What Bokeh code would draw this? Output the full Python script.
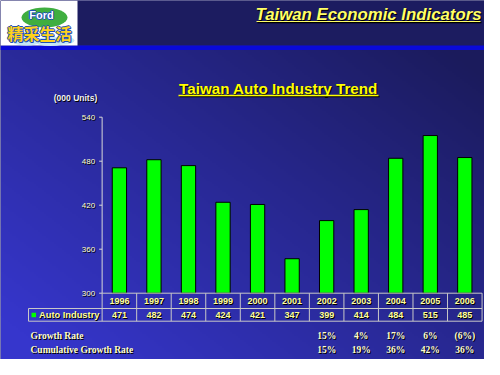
import numpy as np
from bokeh.plotting import figure
from bokeh.models import Range1d
from bokeh.core.properties import value
from bokeh.embed import file_html
from bokeh.resources import INLINE

# ---------------- data ----------------
years = [1996, 1997, 1998, 1999, 2000, 2001, 2002, 2003, 2004, 2005, 2006]
year_labels = [str(y) for y in years]
auto_units = [471, 482, 474, 424, 421, 347, 399, 414, 484, 515, 485]
y_ticks = [300, 360, 420, 480, 540]
growth_years = [2002, 2003, 2004, 2005, 2006]
growth_rate = ["15%", "4%", "17%", "6%", "(6%)"]
cumulative_rate = ["15%", "19%", "36%", "42%", "36%"]
row_labels = ["Growth Rate", "Cumulative Growth Rate"]
series_name = "Auto Industry"
chart_title = "Taiwan Auto Industry Trend"
page_title = "Taiwan Economic Indicators"
unit_label = "(000 Units)"
logo_en = "Ford"
logo_zh = "精采生活"

# ---------------- layout helpers (reference pixel space) ----------------
W, H = 484, 359
AX_PX = 292.7                     # pixel row of value 300
TOP_PX = 116.7                    # pixel row of value 540
PX_PER_UNIT = (AX_PX - TOP_PX) / (y_ticks[-1] - y_ticks[0])
C0 = 118.9                        # pixel centre of the first year
COL = 34.54                       # column width in pixels

def px_to_year(px):
    return years[0] + (px - C0) / COL

p = figure(width=W, height=H, output_backend="svg", toolbar_location=None,
           x_range=Range1d(0, W), y_range=Range1d(H, 0),
           min_border=0, x_axis_location=None, y_axis_location=None)
p.xgrid.visible = False
p.ygrid.visible = False
p.outline_line_color = None
p.background_fill_color = "#1b1b5c"
p.border_fill_color = "#1b1b5c"

p.extra_y_ranges = {"units": Range1d(y_ticks[0] - (H - AX_PX) / PX_PER_UNIT,
                                     y_ticks[0] + AX_PX / PX_PER_UNIT)}
p.extra_x_ranges = {"yrs": Range1d(px_to_year(0), px_to_year(W))}

# ---------------- background gradient ----------------
gh, gw = 180, 242
yy, xx = np.mgrid[0:gh, 0:gw]
ry = (yy + 0.5) * (H / gh)
rx = (xx + 0.5) * (W / gw)
s = np.clip(0.62 * (1 - rx / 500.0) + 0.62 * (ry / 375.0) - 0.14, 0, 1)
dark = np.array([27, 27, 92], dtype=float)
bright = np.array([54, 54, 204], dtype=float)
img = np.empty((gh, gw), dtype=np.uint32)
view = img.view(dtype=np.uint8).reshape((gh, gw, 4))
for k in range(3):
    view[..., k] = (dark[k] + (bright[k] - dark[k]) * s).astype(np.uint8)
view[..., 3] = 255
p.image_rgba(image=[img], x=0, y=0, dw=W, dh=H)

# ---------------- header ----------------
p.quad(left=0, right=W, top=0, bottom=45, fill_color="#1c1c60", line_color=None)
p.quad(left=0, right=W, top=45, bottom=49.5, fill_color="#0a0ad8", line_color=None)

# logo
p.quad(left=0, right=77, top=0, bottom=45, fill_color="white", line_color=None)
p.ellipse(x=[44], y=[17], width=46, height=20, fill_color="#3fae3f", line_color=None)
p.ellipse(x=[50, 26, 64], y=[41, 41, 40], width=[32, 28, 20], height=[9, 8, 8],
          fill_color="#c6e6f6", line_color=None)
for dx, dy in [(-1, 0), (1, 0), (0, -1), (0, 1)]:
    p.text(x=[41], y=[14], text=[logo_en], text_align="center", text_baseline="middle",
           text_font=value("Liberation Sans"), text_font_style="bold", text_font_size="11px",
           text_color="#1d4fb5", x_offset=dx, y_offset=dy)
p.text(x=[41], y=[14], text=[logo_en], text_align="center", text_baseline="middle",
       text_font=value("Liberation Sans"), text_font_style="bold", text_font_size="11px",
       text_color="white")
for dx, dy in [(-1, 0), (1, 0), (0, -1), (0, 1), (1, 1)]:
    p.text(x=[39], y=[32], text=[logo_zh], text_align="center", text_baseline="middle",
           text_font=value("Noto Sans CJK TC"), text_font_style="bold", text_font_size="16px",
           text_color="#1d4fb5", x_offset=dx, y_offset=dy)
p.text(x=[39], y=[32], text=[logo_zh], text_align="center", text_baseline="middle",
       text_font=value("Noto Sans CJK TC"), text_font_style="bold", text_font_size="16px",
       text_color="#ffd21a")

# page title
p.text(x=[481], y=[13.5], text=[page_title], text_align="right", text_baseline="middle",
       text_font=value("Liberation Sans"), text_font_style="bold italic", text_font_size="16.8px",
       text_color="black", x_offset=1, y_offset=1)
p.text(x=[481], y=[13.5], text=[page_title], text_align="right", text_baseline="middle",
       text_font=value("Liberation Sans"), text_font_style="bold italic", text_font_size="16.8px",
       text_color="#ffff66")
p.segment(x0=[257], x1=[481], y0=[22], y1=[22], line_color="black", line_width=1.5)
p.segment(x0=[256], x1=[480], y0=[21], y1=[21], line_color="#ffff66", line_width=1.2)

# ---------------- chart title ----------------
p.text(x=[278], y=[88], text=[chart_title], text_align="center", text_baseline="middle",
       text_font=value("Liberation Sans"), text_font_style="bold", text_font_size="15.2px",
       text_color="black", x_offset=1, y_offset=1)
p.text(x=[278], y=[88], text=[chart_title], text_align="center", text_baseline="middle",
       text_font=value("Liberation Sans"), text_font_style="bold", text_font_size="15.2px",
       text_color="#ffff00")
p.segment(x0=[179], x1=[379], y0=[96], y1=[96], line_color="black", line_width=1.5)
p.segment(x0=[178], x1=[378], y0=[95], y1=[95], line_color="#ffff00", line_width=1.5)

p.text(x=[75], y=[97], text=[unit_label], text_align="center", text_baseline="middle",
       text_font=value("Liberation Sans"), text_font_style="bold", text_font_size="8.5px",
       text_color="black", x_offset=1, y_offset=1)
p.text(x=[75], y=[97], text=[unit_label], text_align="center", text_baseline="middle",
       text_font=value("Liberation Sans"), text_font_style="bold", text_font_size="8.5px",
       text_color="#f2f2f2")

# ---------------- bars & axis ----------------
p.vbar(x=years, top=auto_units, bottom=y_ticks[0], width=14.3 / COL,
       fill_color="#00ff00", line_color="black", line_width=1,
       x_range_name="yrs", y_range_name="units")

ax_x = years[0] - 0.5
p.segment(x0=[ax_x], x1=[ax_x], y0=[y_ticks[0]], y1=[y_ticks[-1]], line_color="#d8d8d8",
          line_width=1, x_range_name="yrs", y_range_name="units")
p.segment(x0=[ax_x - 3 / COL] * len(y_ticks), x1=[ax_x] * len(y_ticks), y0=y_ticks, y1=y_ticks,
          line_color="#d8d8d8", line_width=1, x_range_name="yrs", y_range_name="units")
tick_text = [str(t) for t in y_ticks]
p.text(x=[ax_x - 7 / COL] * len(y_ticks), y=y_ticks, text=tick_text, text_align="right",
       text_baseline="middle", text_font=value("Liberation Sans"), text_font_size="8px",
       text_color="black", x_offset=1, y_offset=1, x_range_name="yrs", y_range_name="units")
p.text(x=[ax_x - 7 / COL] * len(y_ticks), y=y_ticks, text=tick_text, text_align="right",
       text_baseline="middle", text_font=value("Liberation Sans"), text_font_size="8px",
       text_color="#ffffcc", x_range_name="yrs", y_range_name="units")

# ---------------- data table ----------------
R0, R1, R2 = AX_PX, 308.0, 320.7
LEG_L = px_to_year(28)
x_end = years[-1] + 0.5
grid_col = "#c8c8c8"
p.segment(x0=[ax_x, LEG_L, LEG_L], x1=[x_end, x_end, x_end], y0=[R0, R1, R2], y1=[R0, R1, R2],
          line_color=grid_col, line_width=1, x_range_name="yrs")
bounds = [y - 0.5 for y in years] + [x_end]
p.segment(x0=bounds, x1=bounds, y0=[R0] * len(bounds), y1=[R2] * len(bounds),
          line_color=grid_col, line_width=1, x_range_name="yrs")
p.segment(x0=[LEG_L], x1=[LEG_L], y0=[R1], y1=[R2], line_color=grid_col, line_width=1,
          x_range_name="yrs")

val_text = [str(v) for v in auto_units]
for txt, yc in [(year_labels, 300.6), (val_text, 314.6)]:
    p.text(x=years, y=[yc] * len(years), text=txt, text_align="center", text_baseline="middle",
           text_font=value("Liberation Sans"), text_font_style="bold", text_font_size="9px",
           text_color="black", x_offset=1, y_offset=1, x_range_name="yrs")
    p.text(x=years, y=[yc] * len(years), text=txt, text_align="center", text_baseline="middle",
           text_font=value("Liberation Sans"), text_font_style="bold", text_font_size="9px",
           text_color="#ffff99", x_range_name="yrs")

p.quad(left=31, right=35.5, top=312.3, bottom=316.8, fill_color="#00ff00", line_color=None)
p.text(x=[38.5], y=[314.6], text=[series_name], text_align="left", text_baseline="middle",
       text_font=value("Liberation Sans"), text_font_style="bold", text_font_size="9.3px",
       text_color="black", x_offset=1, y_offset=1)
p.text(x=[38.5], y=[314.6], text=[series_name], text_align="left", text_baseline="middle",
       text_font=value("Liberation Sans"), text_font_style="bold", text_font_size="9.3px",
       text_color="#ffff99")

# ---------------- growth rows ----------------
for lab, vals, yc in [(row_labels[0], growth_rate, 335.5), (row_labels[1], cumulative_rate, 349.5)]:
    p.text(x=[30], y=[yc], text=[lab], text_align="left", text_baseline="middle",
           text_font=value("Liberation Serif"), text_font_style="bold", text_font_size="9.5px",
           text_color="black", x_offset=1, y_offset=1)
    p.text(x=[30], y=[yc], text=[lab], text_align="left", text_baseline="middle",
           text_font=value("Liberation Serif"), text_font_style="bold", text_font_size="9.5px",
           text_color="#ffffcc")
    p.text(x=growth_years, y=[yc] * len(vals), text=vals, text_align="center",
           text_baseline="middle", text_font=value("Liberation Serif"), text_font_style="bold",
           text_font_size="9.5px", text_color="black", x_offset=1, y_offset=1,
           x_range_name="yrs")
    p.text(x=growth_years, y=[yc] * len(vals), text=vals, text_align="center",
           text_baseline="middle", text_font=value("Liberation Serif"), text_font_style="bold",
           text_font_size="9.5px", text_color="#ffffcc", x_range_name="yrs")

open("out.html", "w").write(file_html(p, INLINE))
